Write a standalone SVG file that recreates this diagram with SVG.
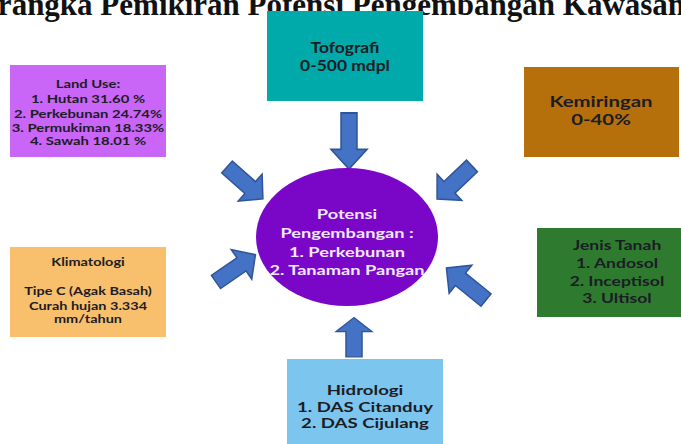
<svg xmlns="http://www.w3.org/2000/svg" width="681" height="444" viewBox="0 0 681 444">
<defs>
<style>
.t{font-family:Lato,"Liberation Sans",sans-serif;font-weight:bold;text-anchor:middle;fill:#1c1c24}
.w{fill:#F3E8FF}
.title{font-family:"Liberation Serif",serif;font-weight:bold;font-size:31px;fill:#111}
.arr{fill:#4472C4;stroke:#2F5597;stroke-width:1.5;stroke-linejoin:miter}
</style>
<path id="ar" d="M0,-8 L31,-8 L31,-18 L48,0 L31,18 L31,8 L0,8 Z"/>
</defs>
<rect width="681" height="444" fill="#fff"/>
<text class="title" x="-40" y="15">Kerangka Pemikiran Potensi Pengembangan Kawasan</text>
<g id="connectors">
<use href="#ar" class="arr" transform="translate(349,113) rotate(90) scale(1.17,1)"/>
<use href="#ar" class="arr" transform="translate(227,167) rotate(41.6)"/>
<use href="#ar" class="arr" transform="translate(472,166) rotate(136.7)"/>
<use href="#ar" class="arr" transform="translate(216,282) rotate(-34.7)"/>
<use href="#ar" class="arr" transform="translate(486,300) rotate(-141) scale(1.06,1)"/>
<use href="#ar" class="arr" transform="translate(354,357) rotate(-90) scale(0.82,1)"/>
</g>
<g id="center">
<ellipse cx="347" cy="237" rx="91" ry="69" fill="#7A06C8"/>
<g transform="translate(347,0) scale(1.3,1)" style="font-size:14px">
<text class="t w" x="0" y="219">Potensi</text>
<text class="t w" x="0" y="238">Pengembangan :</text>
<text class="t w" x="0" y="257">1. Perkebunan</text>
<text class="t w" x="0" y="275">2. Tanaman Pangan</text>
</g>
</g>
<g id="tofografi">
<rect x="267" y="11" width="156" height="90" fill="#00AAAA"/>
<g transform="translate(345,0) scale(1.09,1)" style="font-size:16px">
<text class="t" x="0" y="53">Tofografi</text>
<text class="t" x="0" y="71">0-500 mdpl</text>
</g>
</g>
<g id="landuse">
<rect x="10" y="65" width="156" height="92" fill="#C966F7"/>
<g transform="translate(88,0) scale(1.35,1)" style="font-size:11px">
<text class="t" x="0" y="88">Land Use:</text>
<text class="t" x="0" y="103">1. Hutan 31.60 %</text>
<text class="t" x="0" y="118">2. Perkebunan 24.74%</text>
<text class="t" x="0" y="132">3. Permukiman 18.33%</text>
<text class="t" x="0" y="145">4. Sawah 18.01 %</text>
</g>
</g>
<g id="kemiringan">
<rect x="524" y="67" width="155" height="90" fill="#B5700C"/>
<g transform="translate(601,0) scale(1.27,1)" style="font-size:16px">
<text class="t" x="0" y="107">Kemiringan</text>
<text class="t" x="0" y="125">0-40%</text>
</g>
</g>
<g id="klimatologi">
<rect x="10" y="247" width="156" height="90" fill="#F8C06C"/>
<g transform="translate(88,0) scale(1.26,1)" style="font-size:11.5px">
<text class="t" x="0" y="266">Klimatologi</text>
<text class="t" x="0" y="295">Tipe C (Agak Basah)</text>
<text class="t" x="0" y="310">Curah hujan 3.334</text>
<text class="t" x="0" y="323">mm/tahun</text>
</g>
</g>
<g id="jenistanah">
<rect x="537" y="228" width="150" height="89" fill="#2E7B30"/>
<g transform="translate(617,0) scale(1.35,1)" style="font-size:13px">
<text class="t" x="0" y="250">Jenis Tanah</text>
<text class="t" x="0" y="268">1. Andosol</text>
<text class="t" x="0" y="286">2. Inceptisol</text>
<text class="t" x="0" y="303">3. Ultisol</text>
</g>
</g>
<g id="hidrologi">
<rect x="287" y="359" width="156" height="90" fill="#7CC5EE"/>
<g transform="translate(365,0) scale(1.33,1)" style="font-size:14px">
<text class="t" x="0" y="395">Hidrologi</text>
<text class="t" x="0" y="412">1. DAS Citanduy</text>
<text class="t" x="0" y="428">2. DAS Cijulang</text>
</g>
</g>
</svg>
